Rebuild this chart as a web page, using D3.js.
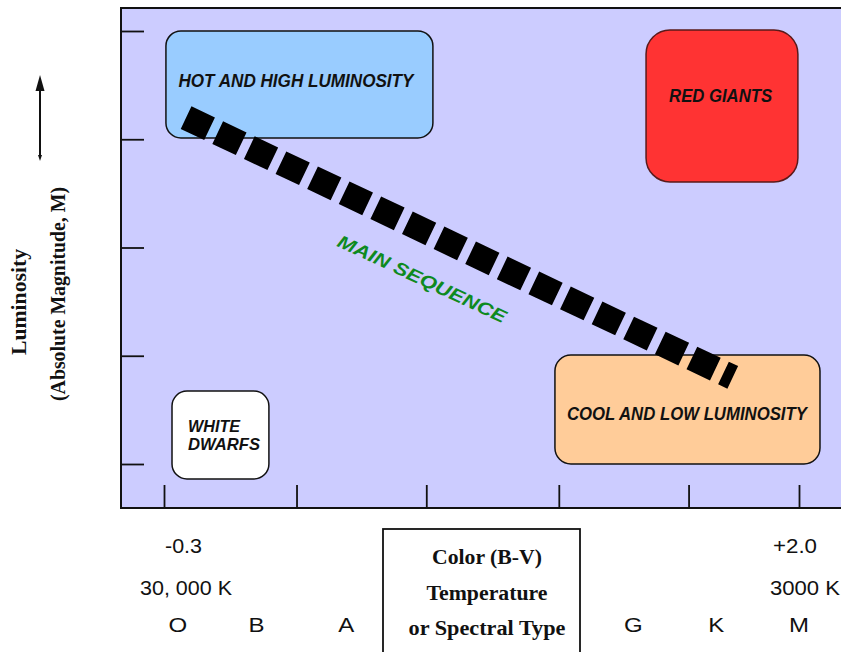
<!DOCTYPE html>
<html>
<head>
<meta charset="utf-8">
<script src="https://cdn.jsdelivr.net/npm/d3@7"></script>
<style>
  html, body { margin: 0; padding: 0; background: #ffffff; }
  svg { display: block; }
</style>
</head>
<body>
<script>
// ---------------- DATA ----------------
// x axis: colour index (B-V); y axis: absolute magnitude (schematic)
const bvDomain = [-0.3, 2.0];
const magDomain = [-10, 10];
const xTickValues = [-0.3, 0.18, 0.65, 1.13, 1.6, 2.0];
const yTickValues = [-10, -5, 0, 5, 10];

// Regions of the HR diagram: [bv0, bv1, M0, M1]
const regionNames = ["HOT AND HIGH LUMINOSITY", "RED GIANTS", "COOL AND LOW LUMINOSITY", "WHITE DWARFS"];
const regionBV0 = [-0.293, 1.446, 1.116, -0.271];
const regionBV1 = [0.674, 1.996, 2.076, 0.080];
const regionM0 = [-10.0, -10.05, 4.97, 6.63];
const regionM1 = [-5.06, -3.03, 10.0, 10.69];
const regionFill = ["#99CCFF", "#FF3333", "#FFCC99", "#FFFFFF"];
const regionLabelBV = [0.178, 1.716, 1.594, -0.213];
const regionLabelM = [-7.67, -7.0, 7.69, 8.66];

// Main sequence band (end points)
const mainSeqBV = [-0.22, 1.76];
const mainSeqM = [-6.0, 6.0];
const mainSeqLabel = "MAIN SEQUENCE";
const mainSeqLabelBV = 0.634;
const mainSeqLabelM = 1.46;

// Bottom axis labels
const colourLabels = ["-0.3", "+2.0"];
const colourValues = [-0.3, 2.0];
const tempLabels = ["30, 000 K", "3000 K"];
const tempValues = [-0.3, 2.0];
const spectralTypes = ["O", "B", "A", "G", "K", "M"];
const spectralValues = [-0.25, 0.035, 0.36, 1.40, 1.70, 2.0];

// ---------------- LAYOUT ----------------
const W = 841, H = 652;
const frame = { left: 121, top: 8, bottom: 508, right: 860 };
const svg = d3.select("body").append("svg").attr("width", W).attr("height", H);

const x = d3.scaleLinear().domain(bvDomain).range([164, 799]);
const y = d3.scaleLinear().domain(magDomain).range([31, 464]);

// plot background
svg.append("rect")
  .attr("x", frame.left).attr("y", frame.top)
  .attr("width", frame.right - frame.left).attr("height", frame.bottom - frame.top)
  .attr("fill", "#CCCCFF").attr("stroke", "#111").attr("stroke-width", 2);

// ticks (inside the frame, no labels)
const yAxis = svg.append("g").attr("transform", `translate(${frame.left},0)`)
  .call(d3.axisRight(y).tickValues(yTickValues).tickSize(23).tickFormat(""));
yAxis.select(".domain").remove();
yAxis.selectAll("line").attr("stroke", "#111").attr("stroke-width", 1.8);

const xAxis = svg.append("g").attr("transform", `translate(0,${frame.bottom})`)
  .call(d3.axisTop(x).tickValues(xTickValues).tickSize(23).tickFormat(""));
xAxis.select(".domain").remove();
xAxis.selectAll("line").attr("stroke", "#111").attr("stroke-width", 1.8);

// regions
const radii = [15, 24, 16, 15];
const regions = regionNames.map((n, i) => ({
  name: n, bv0: regionBV0[i], bv1: regionBV1[i], m0: regionM0[i], m1: regionM1[i],
  fill: regionFill[i], lbv: regionLabelBV[i], lm: regionLabelM[i], r: radii[i]
}));

svg.selectAll("rect.region").data(regions).enter().append("rect")
  .attr("class", "region")
  .attr("x", d => x(d.bv0)).attr("y", d => y(d.m0))
  .attr("width", d => x(d.bv1) - x(d.bv0)).attr("height", d => y(d.m1) - y(d.m0))
  .attr("rx", d => d.r).attr("ry", d => d.r)
  .attr("fill", d => d.fill)
  .attr("stroke", (d, i) => i === 1 ? "#5a1a1a" : "#111")
  .attr("stroke-width", 1.5);

const labelWidths = [235, 103, 240];
regions.forEach((d, i) => {
  if (i < 3) {
    svg.append("text")
      .attr("x", x(d.lbv)).attr("y", y(d.lm))
      .attr("text-anchor", "middle").attr("dominant-baseline", "central")
      .attr("font-family", "'Liberation Sans', Arial, sans-serif")
      .attr("font-weight", "bold").attr("font-style", "italic")
      .attr("font-size", 17.5).attr("fill", "#111")
      .attr("textLength", labelWidths[i]).attr("lengthAdjust", "spacingAndGlyphs")
      .text(d.name);
  } else {
    const words = d.name.split(" ");
    const wl = [52, 72];
    words.forEach((w, k) => {
      svg.append("text")
        .attr("x", x(d.lbv)).attr("y", y(d.lm) + (k - 0.5) * 18)
        .attr("text-anchor", "start").attr("dominant-baseline", "central")
        .attr("font-family", "'Liberation Sans', Arial, sans-serif")
        .attr("font-weight", "bold").attr("font-style", "italic")
        .attr("font-size", 16.5).attr("fill", "#111")
        .attr("textLength", wl[k]).attr("lengthAdjust", "spacingAndGlyphs")
        .text(w);
    });
  }
});

// main sequence band
const ms = mainSeqBV.map((b, i) => [x(b), y(mainSeqM[i])]);
svg.append("path")
  .attr("d", d3.line()(ms))
  .attr("stroke", "#000").attr("stroke-width", 25)
  .attr("stroke-dasharray", "26 9").attr("fill", "none");

const ang = Math.atan2(ms[1][1] - ms[0][1], ms[1][0] - ms[0][0]) * 180 / Math.PI;
svg.append("text")
  .attr("transform", `translate(${x(mainSeqLabelBV)},${y(mainSeqLabelM)}) rotate(${ang - 0.4})`)
  .attr("text-anchor", "middle").attr("dominant-baseline", "central")
  .attr("font-family", "'Liberation Sans', Arial, sans-serif")
  .attr("font-weight", "bold").attr("font-style", "italic")
  .attr("font-size", 18).attr("fill", "#0e8a1f")
  .attr("textLength", 184).attr("lengthAdjust", "spacingAndGlyphs")
  .text(mainSeqLabel);

// bottom labels
const sans = "'Liberation Sans', Arial, sans-serif";
const serif = "'Liberation Serif', 'Times New Roman', serif";
const colW = [37, 44];
colourLabels.forEach((t, i) => {
  svg.append("text")
    .attr("x", i === 0 ? x(colourValues[i]) + 1 : x(colourValues[i]) - 26)
    .attr("y", 553)
    .attr("font-family", sans).attr("font-size", 20).attr("fill", "#111")
    .attr("textLength", colW[i]).attr("lengthAdjust", "spacingAndGlyphs")
    .text(t);
});
const tW = [92, 70];
tempLabels.forEach((t, i) => {
  svg.append("text")
    .attr("x", i === 0 ? x(tempValues[i]) - 24 : x(tempValues[i]) - 29)
    .attr("y", 595)
    .attr("font-family", sans).attr("font-size", 20).attr("fill", "#111")
    .attr("textLength", tW[i]).attr("lengthAdjust", "spacingAndGlyphs")
    .text(t);
});
spectralTypes.forEach((t, i) => {
  svg.append("text")
    .attr("transform", `translate(${x(spectralValues[i])},632) scale(1.2,1)`)
    .attr("text-anchor", "middle")
    .attr("font-family", sans).attr("font-size", 20).attr("fill", "#111")
    .text(t);
});

// axis title box
svg.append("rect")
  .attr("x", 383).attr("y", 529).attr("width", 197).attr("height", 140)
  .attr("fill", "#fff").attr("stroke", "#111").attr("stroke-width", 1.8);
const boxLines = ["Color (B-V)", "Temperature", "or Spectral Type"];
const boxW = [110, 121, 157];
const boxY = [564, 600, 635];
boxLines.forEach((t, i) => {
  svg.append("text")
    .attr("x", 487).attr("y", boxY[i]).attr("text-anchor", "middle")
    .attr("font-family", serif).attr("font-weight", "bold").attr("font-size", 20).attr("fill", "#111")
    .attr("textLength", boxW[i]).attr("lengthAdjust", "spacingAndGlyphs")
    .text(t);
});

// y axis title (rotated)
svg.append("text")
  .attr("transform", "translate(26,302) rotate(-90)")
  .attr("text-anchor", "middle")
  .attr("font-family", serif).attr("font-weight", "bold").attr("font-size", 20).attr("fill", "#111")
  .attr("textLength", 106).attr("lengthAdjust", "spacingAndGlyphs")
  .text("Luminosity");
svg.append("text")
  .attr("transform", "translate(65,294) rotate(-90)")
  .attr("text-anchor", "middle")
  .attr("font-family", serif).attr("font-weight", "bold").attr("font-size", 20).attr("fill", "#111")
  .attr("textLength", 214).attr("lengthAdjust", "spacingAndGlyphs")
  .text("(Absolute Magnitude, M)");

// arrow
svg.append("line").attr("x1", 40).attr("y1", 88).attr("x2", 40).attr("y2", 157)
  .attr("stroke", "#111").attr("stroke-width", 2);
svg.append("path").attr("d", "M40,75 L44.5,91 L35.5,91 Z").attr("fill", "#111");
svg.append("path").attr("d", "M40,161 L42,155 L38,155 Z").attr("fill", "#111");
</script>
</body>
</html>
